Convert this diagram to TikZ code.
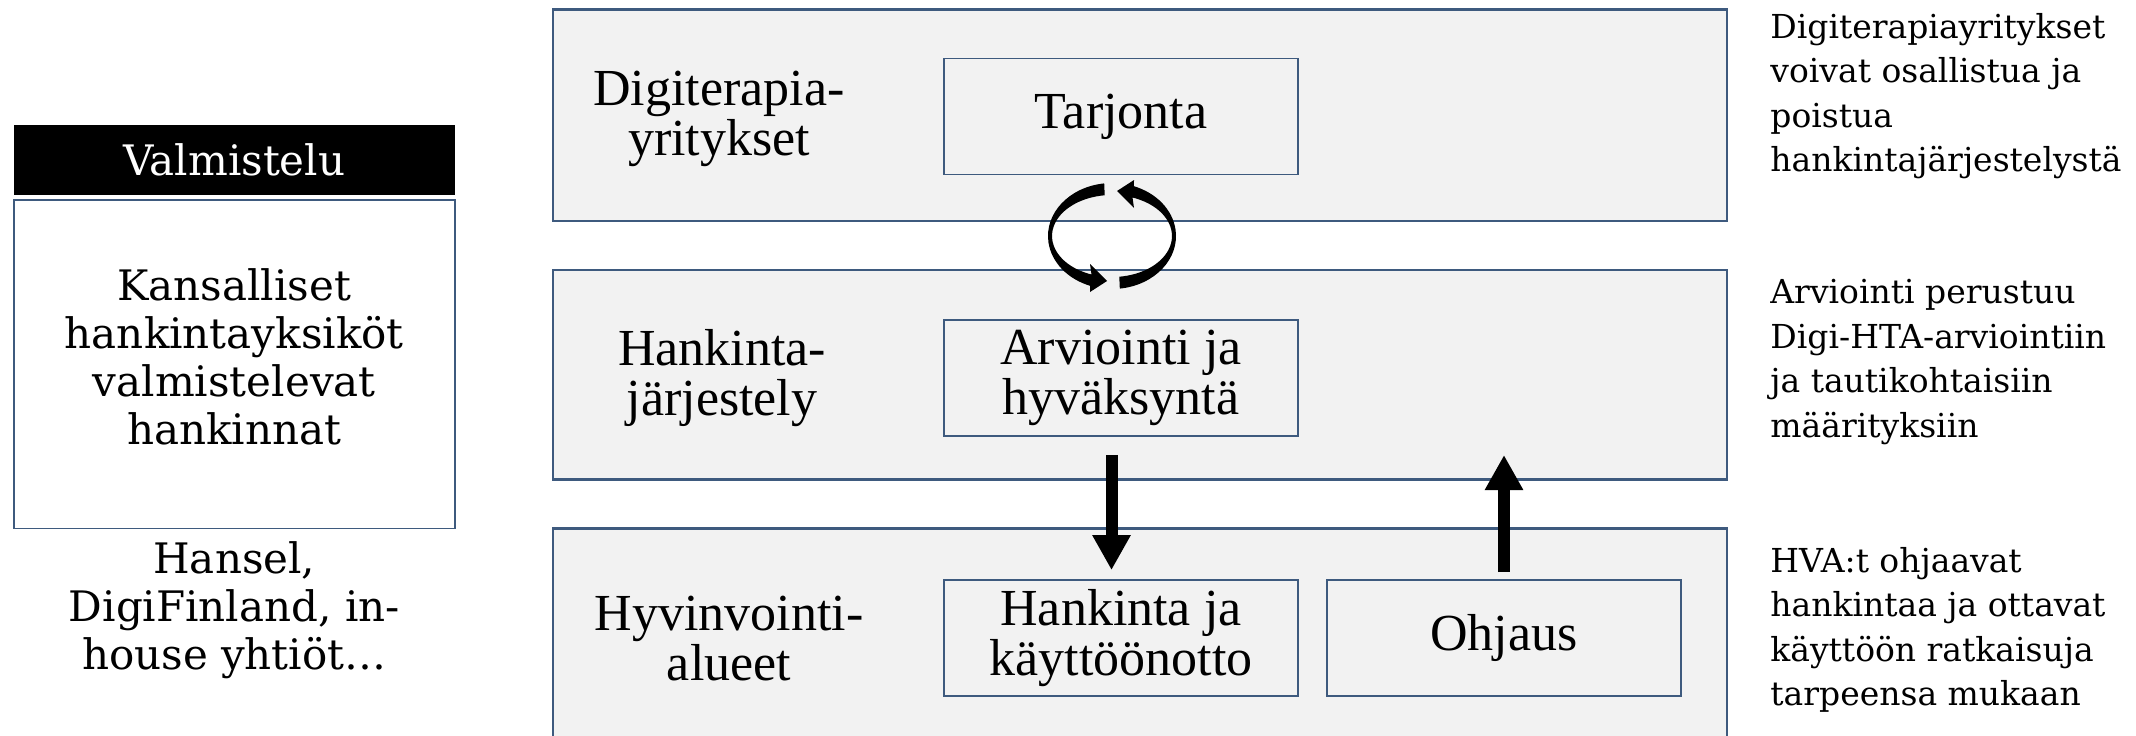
\documentclass[tikz,border=0pt]{standalone}
\usepackage{fontspec}
\setmainfont{DejaVu Serif}
\newfontfamily\libfont{Liberation Serif}
\usetikzlibrary{arrows.meta}
\definecolor{bandfill}{HTML}{F2F2F2}
\definecolor{edgec}{HTML}{3E5A7E}
\begin{document}
\begin{tikzpicture}[x=0.5pt,y=-0.5pt,
  band/.style={draw=edgec, line width=1.1pt, fill=bandfill, minimum width=587pt, inner sep=0pt},
  inbox/.style={draw=edgec, line width=0.9pt, fill=bandfill, minimum width=177pt, minimum height=58pt,
    inner sep=0pt, align=center, font=\libfont\fontsize{26}{25}\selectfont},
  bandlabel/.style={align=center, inner sep=0pt, font=\libfont\fontsize{26}{25}\selectfont},
  sidetext/.style={align=left, anchor=west, inner sep=0pt, font=\fontsize{16.5}{22.2}\selectfont},
  lefttext/.style={align=center, inner sep=0pt, font=\fontsize{21}{24}\selectfont},
  bigarrow/.style={line width=6pt, -{Triangle[width=18pt,length=17.5pt]}},
  cyc/.style={fill=black}]
\useasboundingbox (0,0) rectangle (2136,735);
\clip (0,0) rectangle (2136,735);
\fill[white] (0,0) rectangle (2136,735);

% left column
\node[fill=black, minimum width=220.7pt, minimum height=35pt, inner sep=0pt,
  text=white, font=\fontsize{21}{24}\selectfont] (valm) at (234.3,160) {Valmistelu};
\node[draw=edgec, line width=0.9pt, fill=white, minimum width=220.7pt, minimum height=164.25pt, inner sep=0pt] (kbox) at (234.3,364.2) {};
\node[lefttext] (ktext) at (234.3,357) {Kansalliset\\hankintayksiköt\\valmistelevat\\hankinnat};
\node[lefttext] (hansel) at (234.3,610) {Hansel,\\DigiFinland, in-\\house yhtiöt…};

% bands
\node[band, minimum height=105.6pt] (top) at (1140,115.1) {};
\node[band, minimum height=104.75pt] (mid) at (1140,374.75) {};
\node[band, minimum height=130pt] (bot) at (1140,658.5) {};

\node[bandlabel] (l1) at (719,119) {Digiterapia-\\yritykset};
\node[bandlabel] (l2) at (722,378) {Hankinta-\\järjestely};
\node[bandlabel] (l3) at (729,639) {Hyvinvointi-\\alueet};

\node[inbox] (tarj) at (1121,116.5) {Tarjonta};
\node[inbox] (arv) at (1121,378) {Arviointi ja\\hyväksyntä};
\node[inbox] (hank) at (1121,638) {Hankinta ja\\käyttöönotto};
\node[inbox] (ohj) at (1504,638) {Ohjaus};

% right texts
\node[sidetext] (r1) at (1770,96) {Digiterapiayritykset\\voivat osallistua ja\\poistua\\hankintajärjestelystä};
\node[sidetext] (r2) at (1770,362) {Arviointi perustuu\\Digi-HTA-arviointiin\\ja tautikohtaisiin\\määrityksiin};
\node[sidetext] (r3) at (1770,630) {HVA:t ohjaavat\\hankintaa ja ottavat\\käyttöön ratkaisuja\\tarpeensa mukaan};

% vertical arrows
\draw[bigarrow, shorten <=9pt, shorten >=4.5pt] ([xshift=-4.75pt]arv.south) -- ([xshift=-4.75pt]hank.north);
\coordinate (uptip) at (1504,455);
\draw[bigarrow, shorten <=3.5pt] (ohj.north) -- (uptip);

% cycle arrows
\fill[cyc] (1104.2,183.4) arc[start angle=263, end angle=110, x radius=64, y radius=53]
  -- (1090,292) -- (1107,281) -- (1090,264) -- (1091.5,274.5)
  arc[start angle=110, end angle=263, x radius=60, y radius=41] -- cycle;
\fill[cyc] (1119.8,288.6) arc[start angle=83, end angle=-70, x radius=64, y radius=53]
  -- (1134,180) -- (1117,191) -- (1134,208) -- (1132.5,197.5)
  arc[start angle=-70, end angle=83, x radius=60, y radius=41] -- cycle;
\end{tikzpicture}
\end{document}
